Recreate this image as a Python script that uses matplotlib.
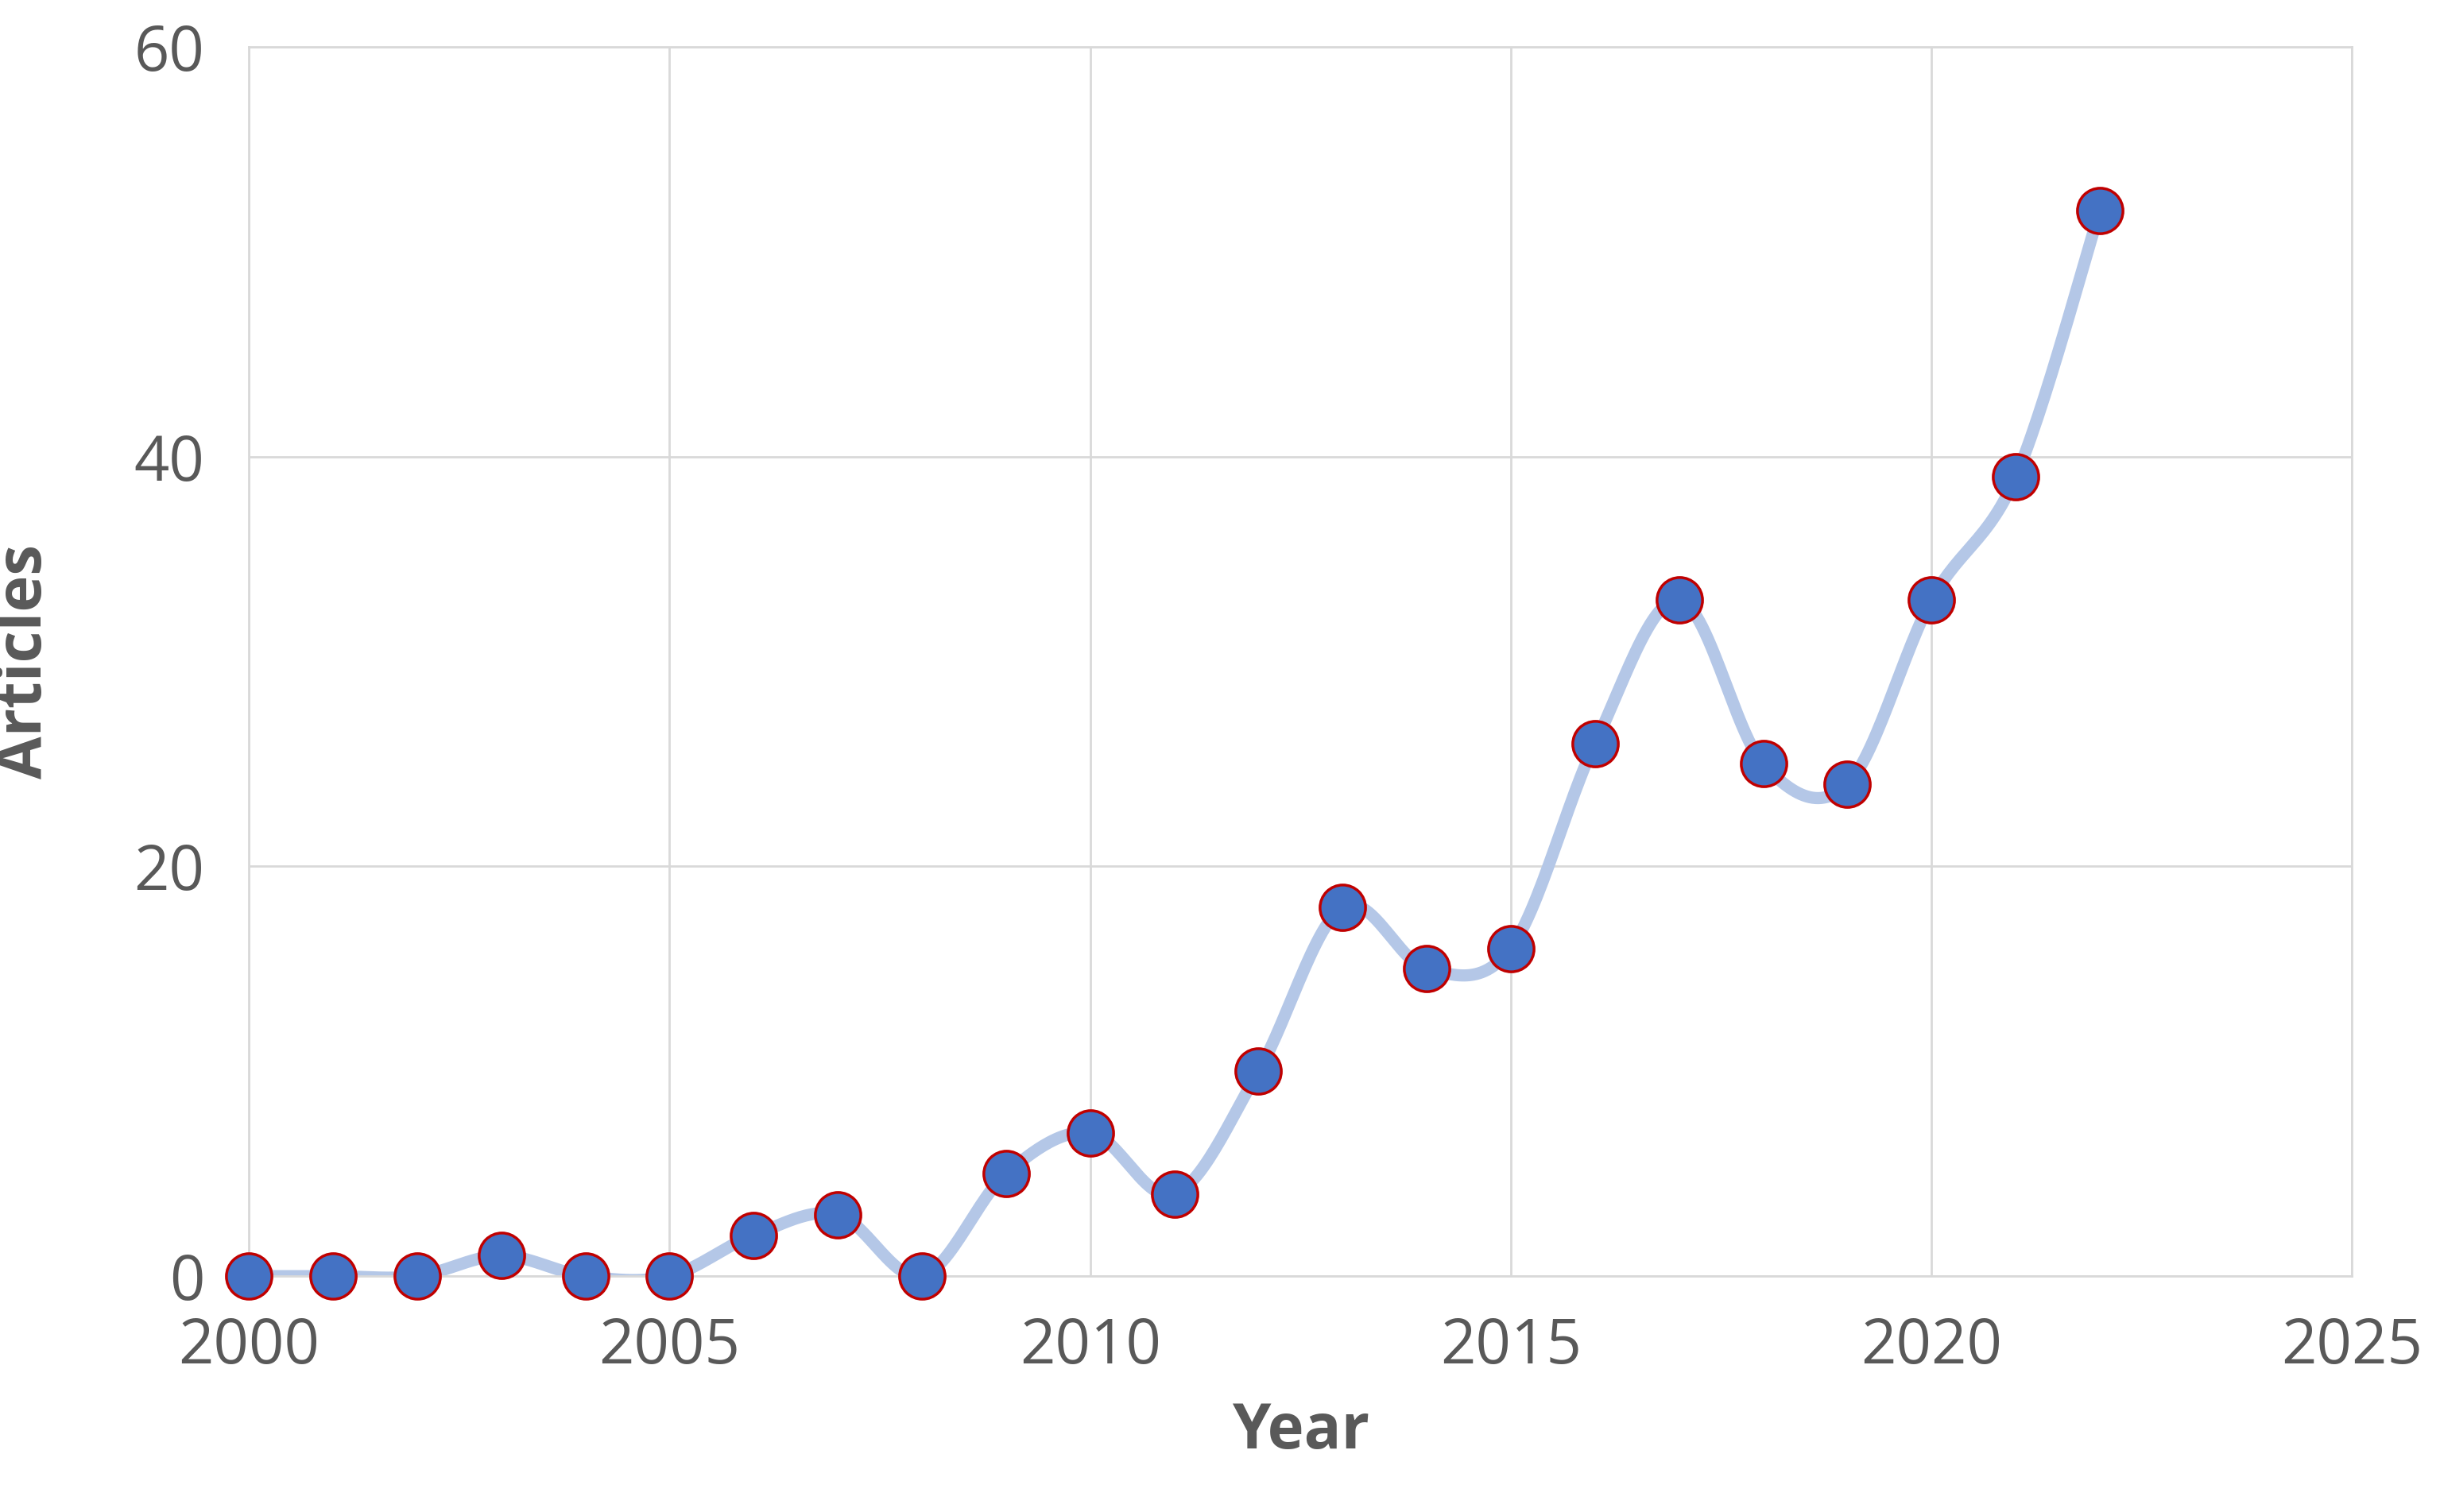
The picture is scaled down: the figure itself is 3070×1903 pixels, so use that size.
import matplotlib.pyplot as plt
import numpy as np

years = [2000, 2001, 2002, 2003, 2004, 2005, 2006, 2007, 2008, 2009, 2010, 2011,
         2012, 2013, 2014, 2015, 2016, 2017, 2018, 2019, 2020, 2021, 2022]
articles = [0, 0, 0, 1, 0, 0, 2, 3, 0, 5, 7, 4, 10, 18, 15, 16, 26, 33, 25, 24, 33, 39, 52]


def smooth(x, y, n=30):
    # Catmull-Rom curve through the points, like Excel's smoothed line
    x = np.asarray(x, float)
    y = np.asarray(y, float)
    px = np.concatenate([[x[0]], x, [x[-1]]])
    py = np.concatenate([[y[0]], y, [y[-1]]])
    xs, ys = [], []
    t = np.linspace(0, 1, n)
    for i in range(1, len(px) - 2):
        for p, out in ((px, xs), (py, ys)):
            p0, p1, p2, p3 = p[i - 1], p[i], p[i + 1], p[i + 2]
            out.extend(0.5 * (2 * p1 + (-p0 + p2) * t
                              + (2 * p0 - 5 * p1 + 4 * p2 - p3) * t ** 2
                              + (-p0 + 3 * p1 - 3 * p2 + p3) * t ** 3))
    return xs, ys


fig = plt.figure(figsize=(30.7, 19.03), dpi=100)
ax = fig.add_axes([0.102, 0.156, 0.862, 0.813])

sx, sy = smooth(years, articles)
ax.plot(sx, sy, color="#b4c7e7", lw=11, zorder=2, solid_capstyle="round")
ax.scatter(years, articles, s=1700, color="#4472c4", edgecolor="#c00000",
           linewidth=2.5, zorder=3, clip_on=False)

ax.set_xlim(2000, 2025)
ax.set_ylim(0, 60)
ax.set_xticks(range(2000, 2026, 5))
ax.set_yticks(range(0, 61, 20))
ax.grid(color="#d9d9d9", lw=2)
ax.set_axisbelow(True)
for s in ax.spines.values():
    s.set_color("#d9d9d9")
    s.set_linewidth(2)
ax.tick_params(axis="x", length=0, labelsize=56, labelcolor="#595959", pad=36)
ax.tick_params(axis="y", length=0, labelsize=56, labelcolor="#595959", pad=40)
ax.set_xlabel("Year", fontsize=56, fontweight="bold", color="#595959", labelpad=20)
ax.set_ylabel("Articles", fontsize=56, fontweight="bold", color="#595959", labelpad=70)
for t in ax.get_xticklabels() + ax.get_yticklabels() + [ax.xaxis.label, ax.yaxis.label]:
    t.set_family(["Open Sans", "DejaVu Sans"])

fig.savefig("out.png", dpi=100)
